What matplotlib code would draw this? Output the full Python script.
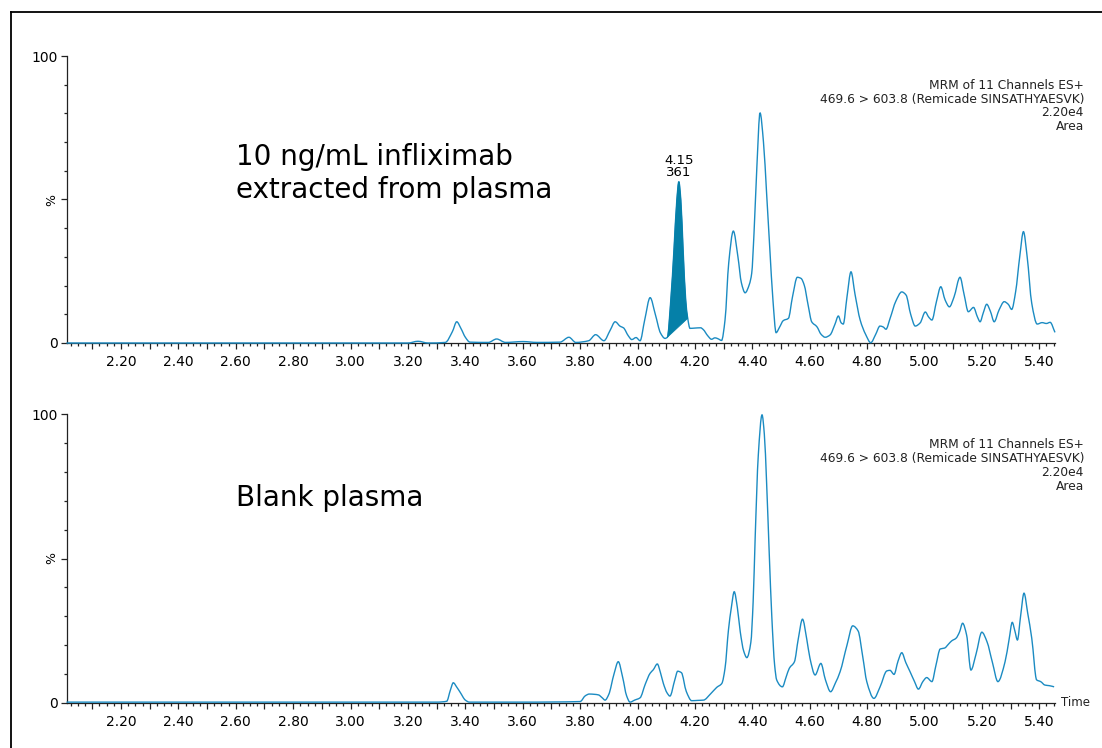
import matplotlib
matplotlib.use('Agg')
import matplotlib.pyplot as plt
from matplotlib.path import Path
from matplotlib.patches import PathPatch
from matplotlib.lines import Line2D
from matplotlib.ticker import MultipleLocator, FixedLocator, FuncFormatter
import numpy as np

# ---- data (retention time in min, intensity in %) ----
top_time = [2.01, 2.50, 3.00, 3.20, 3.235, 3.27, 3.33, 3.355, 3.370, 3.385, 3.400, 3.416,
            3.48, 3.509, 3.54, 3.601, 3.65, 3.73, 3.761, 3.785, 3.83, 3.854, 3.883, 3.905,
            3.922, 3.940, 3.951, 3.968, 3.980, 3.995, 4.009, 4.025, 4.044, 4.062, 4.080,
            4.096, 4.104, 4.116, 4.127, 4.137, 4.144, 4.151, 4.159, 4.168, 4.175, 4.183,
            4.200, 4.220, 4.229, 4.245, 4.258, 4.270, 4.280, 4.293, 4.305, 4.318, 4.334,
            4.350, 4.362, 4.375, 4.390, 4.398, 4.406, 4.416, 4.427, 4.439, 4.450, 4.461,
            4.472, 4.483, 4.495, 4.508, 4.526, 4.540, 4.557, 4.570, 4.581, 4.595, 4.607,
            4.625, 4.640, 4.654, 4.671, 4.688, 4.700, 4.710, 4.717, 4.730, 4.744, 4.758,
            4.776, 4.795, 4.813, 4.830, 4.845, 4.856, 4.866, 4.880, 4.900, 4.921, 4.936,
            4.952, 4.968, 4.985, 5.003, 5.015, 5.026, 5.042, 5.057, 5.072, 5.087, 5.103,
            5.124, 5.138, 5.153, 5.171, 5.185, 5.194, 5.205, 5.217, 5.230, 5.243, 5.260,
            5.278, 5.292, 5.304, 5.318, 5.332, 5.345, 5.358, 5.374, 5.393, 5.410, 5.425,
            5.438, 5.455]
top_int = [0.0, 0.0, 0.0, 0.0, 0.6, 0.0, 0.2, 4.0, 7.4, 5.0, 2.0, 0.3,
           0.2, 1.4, 0.2, 0.5, 0.2, 0.3, 2.0, 0.2, 0.8, 2.9, 0.8, 4.5,
           7.4, 5.8, 5.3, 2.5, 1.2, 1.9, 0.8, 8.0, 15.8, 10.0, 3.5,
           1.6, 2.0, 15.0, 32.4, 49.8, 56.2, 49.8, 32.4, 15.0, 8.6, 5.1,
           5.2, 5.3, 4.7, 2.5, 1.3, 1.8, 1.5, 0.9, 8.0, 28.0, 39.0,
           30.0, 21.0, 17.5, 20.5, 24.3, 38.2, 61.4, 80.2, 70.0, 52.0, 33.0,
           15.0, 3.6, 5.5, 7.8, 8.6, 16.0, 22.9, 22.5, 20.2, 13.0, 7.4,
           5.7, 3.0, 2.0, 2.8, 6.5, 9.4, 7.0, 6.6, 16.0, 24.8, 17.0,
           8.0, 3.0, 0.1, 3.0, 5.9, 5.6, 4.8, 8.5, 14.5, 17.8, 16.7,
           10.0, 5.9, 7.0, 10.8, 9.0, 8.0, 14.5, 19.6, 15.0, 12.6, 16.0,
           22.9, 17.0, 10.9, 12.4, 9.0, 7.4, 10.5, 13.5, 11.0, 7.4, 11.5,
           14.4, 13.5, 11.7, 18.0, 30.0, 38.8, 30.0, 13.8, 6.6, 7.1, 6.8,
           7.2, 3.7]

bottom_time = [2.01, 2.50, 3.00, 3.30, 3.335, 3.348, 3.358, 3.370, 3.382, 3.400, 3.414,
               3.60, 3.80, 3.818, 3.832, 3.850, 3.864, 3.877, 3.887, 3.900, 3.918, 3.933,
               3.948, 3.962, 3.974, 3.990, 4.009, 4.027, 4.044, 4.055, 4.069, 4.080, 4.090,
               4.103, 4.113, 4.130, 4.140, 4.153, 4.170, 4.189, 4.210, 4.230, 4.255, 4.276,
               4.294, 4.305, 4.317, 4.327, 4.337, 4.348, 4.358, 4.370, 4.381, 4.395, 4.403,
               4.410, 4.421, 4.434, 4.442, 4.450, 4.459, 4.468, 4.478, 4.485, 4.505, 4.518,
               4.529, 4.547, 4.560, 4.575, 4.590, 4.601, 4.619, 4.639, 4.655, 4.673, 4.690,
               4.706, 4.730, 4.750, 4.769, 4.785, 4.799, 4.824, 4.845, 4.869, 4.880, 4.894,
               4.908, 4.921, 4.935, 4.950, 4.965, 4.979, 4.995, 5.008, 5.026, 5.040, 5.055,
               5.070, 5.085, 5.095, 5.110, 5.122, 5.133, 5.147, 5.162, 5.180, 5.200, 5.218,
               5.237, 5.256, 5.281, 5.295, 5.306, 5.315, 5.324, 5.335, 5.347, 5.360, 5.374,
               5.391, 5.405, 5.420, 5.435, 5.452]
bottom_int = [0.3, 0.3, 0.3, 0.3, 0.6, 4.5, 7.0, 5.5, 3.7, 1.0, 0.3,
              0.3, 0.5, 2.5, 3.1, 3.0, 2.8, 1.8, 1.0, 3.0, 10.0, 14.3,
              9.0, 2.5, 0.3, 1.0, 1.8, 6.5, 10.3, 11.5, 13.5, 10.5, 6.8,
              3.5, 2.4, 8.0, 11.0, 10.5, 4.0, 0.8, 0.9, 1.0, 3.2, 5.4,
              6.8, 12.0, 25.3, 33.0, 38.5, 33.0, 24.7, 18.0, 15.7, 21.0, 35.0,
              57.0, 85.8, 99.7, 93.0, 76.0, 52.0, 30.0, 13.0, 8.0, 5.6, 9.0,
              12.0, 14.3, 22.0, 29.0, 22.0, 15.5, 9.7, 13.7, 8.0, 3.9, 7.0,
              10.8, 20.0, 26.7, 24.9, 16.0, 7.4, 1.6, 5.5, 11.1, 11.3, 9.9,
              14.5, 17.4, 14.0, 10.8, 7.5, 4.8, 7.5, 8.8, 7.4, 13.0, 18.7,
              19.0, 20.5, 21.5, 22.4, 24.5, 27.6, 23.5, 11.4, 17.0, 24.5, 21.2,
              14.0, 7.4, 14.3, 22.0, 27.9, 25.0, 21.8, 30.0, 38.0, 31.0, 22.4,
              8.0, 7.4, 6.2, 6.0, 5.6]

# integrated peak in the sample trace
peak_start, peak_end = 4.104, 4.175
peak_rt_label = '4.15'
peak_area_label = '361'

header_lines = ['MRM of 11 Channels ES+',
                '469.6 > 603.8 (Remicade SINSATHYAESVK)',
                '2.20e4',
                'Area']
panel_titles = [['10 ng/mL infliximab', 'extracted from plasma'], ['Blank plasma']]

line_color = '#1b8bc2'
fill_color = '#0580a8'


def smooth_path(x, y):
    # monotone cubic (Fritsch-Carlson) tangents, drawn as bezier segments
    x = np.asarray(x, float)
    y = np.asarray(y, float)
    h = np.diff(x)
    d = np.diff(y) / h
    m = np.zeros_like(y)
    m[0], m[-1] = d[0], d[-1]
    for k in range(1, len(x) - 1):
        if d[k - 1] * d[k] > 0:
            w1 = 2 * h[k] + h[k - 1]
            w2 = h[k] + 2 * h[k - 1]
            m[k] = (w1 + w2) / (w1 / d[k - 1] + w2 / d[k])
    verts = [(x[0], y[0])]
    codes = [Path.MOVETO]
    for k in range(len(x) - 1):
        verts += [(x[k] + h[k] / 3, y[k] + m[k] * h[k] / 3),
                  (x[k + 1] - h[k] / 3, y[k + 1] - m[k + 1] * h[k] / 3),
                  (x[k + 1], y[k + 1])]
        codes += [Path.CURVE4] * 3
    return verts, codes


def style_axis(ax):
    ax.set_xlim(2.01, 5.455)
    ax.set_ylim(0, 100)
    for s in ['top', 'right']:
        ax.spines[s].set_visible(False)
    for s in ['left', 'bottom']:
        ax.spines[s].set_color('#222222')
        ax.spines[s].set_linewidth(0.9)
    ax.xaxis.set_major_locator(MultipleLocator(0.1))
    ax.xaxis.set_minor_locator(MultipleLocator(0.025))
    ax.xaxis.set_major_formatter(FuncFormatter(
        lambda v, p: '%.2f' % v if round(v * 10) % 2 == 0 else ''))
    ax.yaxis.set_major_locator(FixedLocator([0, 50, 100]))
    ax.yaxis.set_minor_locator(MultipleLocator(10))
    ax.set_yticklabels(['0', '', '100'])
    ax.tick_params(axis='x', which='major', length=4, width=0.9, pad=4.5,
                   labelsize=10, color='#222222')
    ax.tick_params(axis='x', which='minor', length=2.2, width=0.9, color='#222222')
    ax.tick_params(axis='y', which='major', length=4.5, width=0.9, pad=1.5,
                   labelsize=10, color='#222222')
    ax.tick_params(axis='y', which='minor', length=2.2, width=0.9, color='#222222')
    ax.text(-0.0147, 50, '%', rotation=90, ha='center', va='center', fontsize=9,
            transform=ax.get_yaxis_transform())


fig = plt.figure(figsize=(11.02, 7.48), dpi=100)
W, H = 1102.0, 748.0

ax_top = fig.add_axes([66.5 / W, 1 - 343 / H, (1055 - 66.5) / W, 287 / H])
ax_bot = fig.add_axes([66.5 / W, 1 - 703 / H, (1055 - 66.5) / W, 289 / H])

for ax in (ax_top, ax_bot):
    style_axis(ax)

# top trace with the shaded integrated peak
verts, codes = smooth_path(top_time, top_int)
ax_top.add_patch(PathPatch(Path(verts, codes), facecolor='none', edgecolor=line_color,
                           lw=1.0, zorder=3, clip_on=False))
i0 = top_time.index(peak_start)
i1 = top_time.index(peak_end)
fverts = verts[3 * i0:3 * i1 + 1] + [verts[3 * i0]]
fcodes = [Path.MOVETO] + [Path.CURVE4] * (3 * (i1 - i0)) + [Path.CLOSEPOLY]
ax_top.add_patch(PathPatch(Path(fverts, fcodes), facecolor=fill_color, edgecolor=fill_color,
                           lw=0.6, zorder=4))
apex = i0 + int(np.argmax(top_int[i0:i1 + 1]))
ax_top.annotate(peak_area_label, xy=(top_time[apex], top_int[apex]), xytext=(0, 4),
                textcoords='offset points', ha='center', va='baseline', fontsize=9.5)
ax_top.annotate(peak_rt_label, xy=(top_time[apex], top_int[apex]), xytext=(0, 12.7),
                textcoords='offset points', ha='center', va='baseline', fontsize=9.5)

# bottom trace
verts, codes = smooth_path(bottom_time, bottom_int)
ax_bot.add_patch(PathPatch(Path(verts, codes), facecolor='none', edgecolor=line_color,
                           lw=1.0, zorder=3, clip_on=False))
ax_bot.text(1.0058, 0, 'Time', transform=ax_bot.get_yaxis_transform(), ha='left',
            va='center', fontsize=8.5, color='#222222')

# header text blocks on the right
for i, line in enumerate(header_lines):
    fig.text(1084 / W, 1 - (89.3 + 13.6 * i) / H, line, ha='right', va='baseline',
             fontsize=8.8, color='#222222')
    fig.text(1084 / W, 1 - (448.3 + 13.9 * i) / H, line, ha='right', va='baseline',
             fontsize=8.8, color='#222222')

# panel titles
for i, line in enumerate(panel_titles[0]):
    fig.text(236 / W, 1 - (165 + 33.3 * i) / H, line, ha='left', va='baseline', fontsize=20)
fig.text(236 / W, 1 - 506 / H, panel_titles[1][0], ha='left', va='baseline', fontsize=20)

# outer frame
fx, fy = 11 / W, 1 - 12 / H
fig.add_artist(Line2D([fx, 1.0], [fy, fy], transform=fig.transFigure, color='black', lw=1.3))
fig.add_artist(Line2D([fx, fx], [0.0, fy], transform=fig.transFigure, color='black', lw=1.3))

fig.savefig('out.png', dpi=100)
